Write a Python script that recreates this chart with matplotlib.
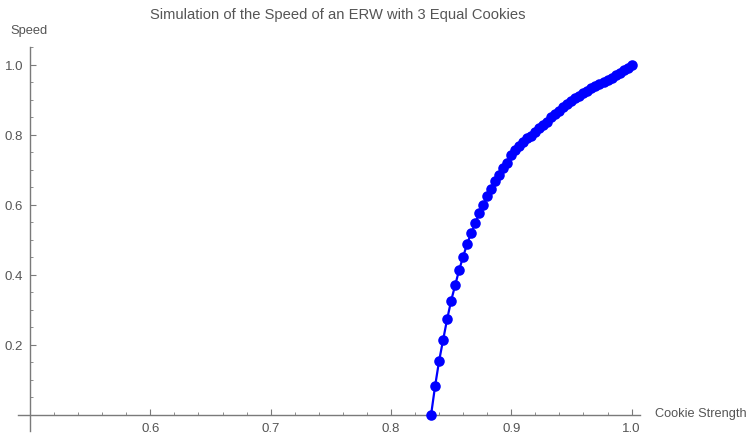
import numpy as np
import matplotlib
matplotlib.use("Agg")
import matplotlib.pyplot as plt
from matplotlib.ticker import MultipleLocator, FixedLocator, FixedFormatter

plt.rcParams['font.family'] = ['Liberation Sans', 'DejaVu Sans']

# Cookie strength values (step 1/300 from 5/6 to 1)
strength = [5/6 + i/300 for i in range(51)]
speed = [0.000, 0.082, 0.154, 0.214, 0.273, 0.326, 0.370, 0.414, 0.452, 0.489,
         0.519, 0.547, 0.576, 0.600, 0.624, 0.646, 0.667, 0.686, 0.704, 0.721,
         0.742, 0.756, 0.767, 0.779, 0.790, 0.798, 0.808, 0.819, 0.829, 0.838,
         0.850, 0.859, 0.868, 0.879, 0.887, 0.898, 0.906, 0.912, 0.919, 0.926,
         0.933, 0.939, 0.945, 0.951, 0.957, 0.963, 0.970, 0.977, 0.984, 0.992,
         1.000]

x_ticks = [0.6, 0.7, 0.8, 0.9, 1.0]
x_labels = ["0.6", "0.7", "0.8", "0.9", "1.0"]
y_ticks = [0.2, 0.4, 0.6, 0.8, 1.0]
y_labels = ["0.2", "0.4", "0.6", "0.8", "1.0"]

fig = plt.figure(figsize=(7.5, 4.35), dpi=100)
ax = fig.add_axes([18/750, 3/435, 622/750, 384/435])

ax.plot(strength, speed, color='#0000ff', lw=1.6, marker='o', ms=7.6,
        markeredgewidth=0, zorder=3, clip_on=False)

ax.set_xlim(0.490, 1.007)
ax.set_ylim(-0.046, 1.051)

axis_col = '#7a7a7a'
text_col = '#555555'
for s in ['top', 'right']:
    ax.spines[s].set_visible(False)
ax.spines['left'].set_position(('data', 0.5))
ax.spines['bottom'].set_position(('data', 0.0))
for s in ['left', 'bottom']:
    ax.spines[s].set_color(axis_col)
    ax.spines[s].set_linewidth(1.0)

ax.xaxis.set_major_locator(FixedLocator(x_ticks))
ax.xaxis.set_major_formatter(FixedFormatter(x_labels))
ax.xaxis.set_minor_locator(MultipleLocator(0.02))
ax.yaxis.set_major_locator(FixedLocator(y_ticks))
ax.yaxis.set_major_formatter(FixedFormatter(y_labels))
ax.yaxis.set_minor_locator(MultipleLocator(0.05))

ax.tick_params(axis='both', which='major', direction='in', length=4.5, width=0.8,
               color=axis_col, labelcolor=text_col, labelsize=9.5, pad=5)
ax.tick_params(axis='both', which='minor', direction='in', length=2.5, width=0.6,
               color=axis_col)
ax.tick_params(axis='y', which='major', pad=5)

fig.text(338/750, 1 - 15/435, "Simulation of the Speed of an ERW with 3 Equal Cookies",
         ha='center', va='center', fontsize=10.6, color=text_col)
fig.text(29/750, 1 - 31/435, "Speed", ha='center', va='center', fontsize=9.3, color=text_col)
fig.text(655/750, 1 - 414/435, "Cookie Strength", ha='left', va='center',
         fontsize=9.2, color=text_col)

fig.savefig("out.png", dpi=100)
